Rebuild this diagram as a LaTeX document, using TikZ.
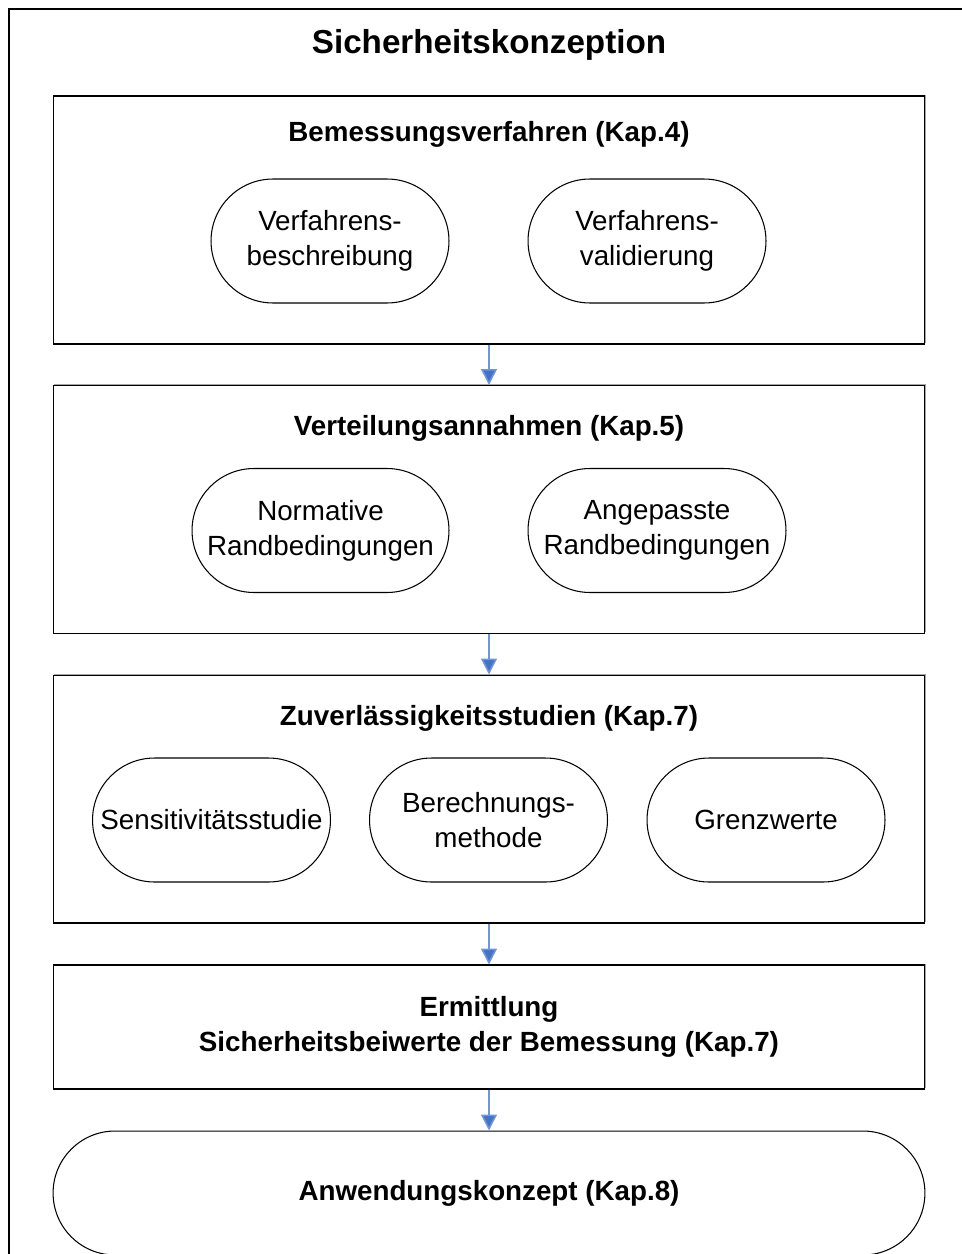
\documentclass[tikz,border=0pt]{standalone}
\usepackage{fontspec}
\setmainfont{Liberation Sans}
\usetikzlibrary{arrows.meta, positioning, shadows}

\definecolor{flowblue}{RGB}{68,114,196}

\tikzset{
  panel/.style={draw=black, fill=white, line width=0.6pt,
    minimum width=17.44cm, minimum height=4.96cm,
    drop shadow={shadow xshift=0.7pt, shadow yshift=0.7pt, fill=gray!70, opacity=1}},
  item/.style={draw=black, line width=0.6pt, align=center,
    minimum width=4.76cm, minimum height=2.48cm, rounded corners=1.24cm,
    font=\fontsize{15.8}{20}\selectfont},
  heading/.style={font=\fontsize{15.8}{20}\selectfont\bfseries, align=center},
  flow/.style={draw=flowblue!75, line width=0.9pt,
    -{Triangle[width=0.32cm, length=0.32cm, fill=flowblue]}}
}

\begin{document}
\begin{tikzpicture}[x=0.02cm, y=-0.02cm]
  \useasboundingbox (0,0) rectangle (962,1254);

  % Outer frame
  \draw[line width=1.3pt] (9,1270) -- (9,9) -- (980,9);

  % Title
  \node[font=\fontsize{18.9}{22}\selectfont\bfseries] (title) at (489,44.5) {Sicherheitskonzeption};

  % Panels
  \node[panel] (verfahren) at (489,220) {};
  \node[panel] (verteilung) at (489,509.5) {};
  \node[panel] (studien) at (489,799) {};
  \node[panel, minimum height=2.48cm, align=center,
    font=\fontsize{15.8}{35\dimexpr 0.57pt\relax}\selectfont\bfseries] (ermittlung) at (489,1027)
    {\raisebox{-2pt}{Ermittlung}\\\raisebox{-2pt}{Sicherheitsbeiwerte der Bemessung (Kap.7)}};
  \node[item, minimum width=17.44cm, font=\fontsize{15.8}{20}\selectfont\bfseries] (konzept) at (489,1193)
    {\raisebox{-2pt}{Anwendungskonzept (Kap.8)}};

  % Headings
  \node[heading] (h1) at (489,134) {Bemessungsverfahren (Kap.4)};
  \node[heading] (h2) at (489,428) {Verteilungsannahmen (Kap.5)};
  \node[heading] (h3) at (489,718) {Zuverlässigkeitsstudien (Kap.7)};

  % Items
  \node[item] (beschreibung) at (330,241) {Verfahrens-\\beschreibung};
  \node[item] (validierung) at (647,241) {Verfahrens-\\validierung};
  \node[item, minimum width=5.14cm] (normativ) at (320.5,530.5) {Normative\\Randbedingungen};
  \node[item, minimum width=5.16cm] (angepasst) at (657,530.5) {Angepasste\\Randbedingungen};
  \node[item] (sensitiv) at (211.5,820) {Sensitivitätsstudie};
  \node[item] (methode) at (488.5,820) {Berechnungs-\\methode};
  \node[item] (grenz) at (766,820) {Grenzwerte};

  % Connectors
  \draw[flow] (verfahren) -- (verteilung);
  \draw[flow] (verteilung) -- (studien);
  \draw[flow] (studien) -- (ermittlung);
  \draw[flow] (ermittlung) -- (konzept);
\end{tikzpicture}
\end{document}
